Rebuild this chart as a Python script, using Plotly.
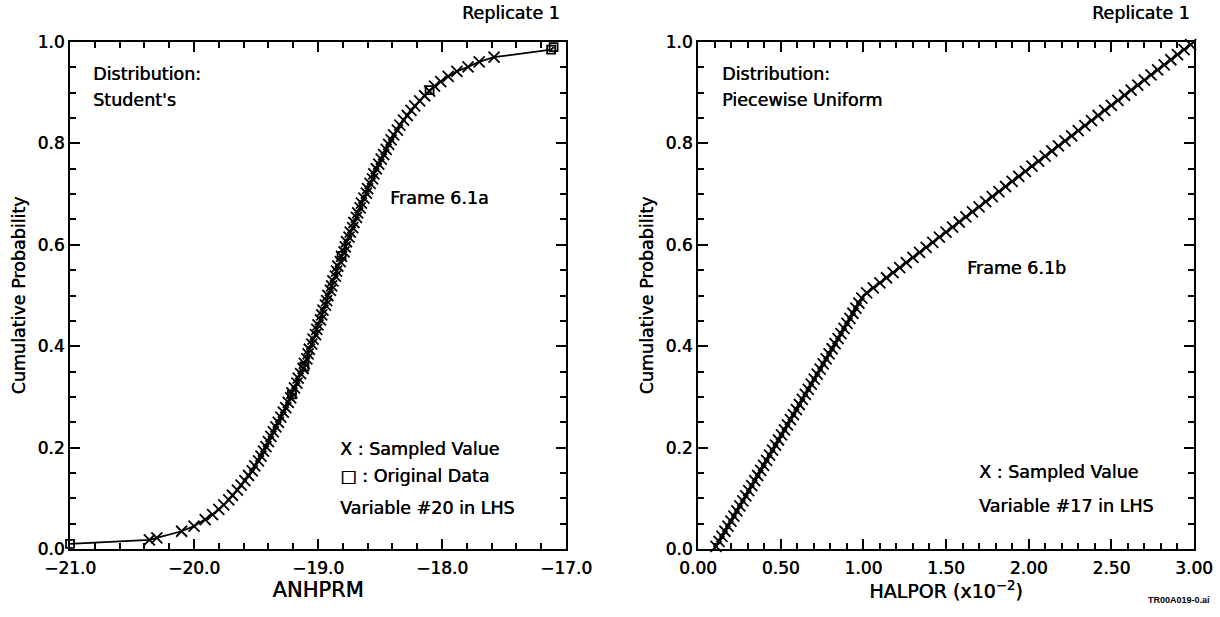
import plotly.graph_objects as go

W, H = 1220, 617

# ---------------- data: left panel (ANHPRM, Student's) ----------------
anh_sample_x = [
    -20.36, -20.30, -20.10, -20.00, -19.91, -19.85, -19.80, -19.76, -19.72, -19.69,
    -19.65, -19.62, -19.59, -19.56, -19.53, -19.51, -19.48, -19.46, -19.44, -19.42,
    -19.40, -19.38, -19.36, -19.34, -19.32, -19.30, -19.28, -19.26, -19.24, -19.22,
    -19.21, -19.19, -19.17, -19.16, -19.14, -19.12, -19.11, -19.09, -19.08, -19.07,
    -19.05, -19.04, -19.02, -19.01, -19.00, -18.98, -18.97, -18.96, -18.94, -18.93,
    -18.92, -18.90, -18.89, -18.88, -18.86, -18.85, -18.84, -18.82, -18.81, -18.79,
    -18.78, -18.77, -18.75, -18.74, -18.72, -18.71, -18.69, -18.68, -18.66, -18.65,
    -18.63, -18.61, -18.60, -18.58, -18.56, -18.55, -18.53, -18.51, -18.49, -18.47,
    -18.45, -18.43, -18.41, -18.39, -18.36, -18.34, -18.31, -18.28, -18.25, -18.22,
    -18.18, -18.14, -18.10, -18.06, -18.01, -17.95, -17.88, -17.79, -17.70, -17.58,
]
anh_sample_p = [
    0.018, 0.022, 0.035, 0.045, 0.058, 0.068, 0.078, 0.087, 0.097, 0.106,
    0.116, 0.126, 0.135, 0.145, 0.154, 0.164, 0.174, 0.183, 0.193, 0.202,
    0.212, 0.222, 0.231, 0.241, 0.250, 0.260, 0.270, 0.279, 0.289, 0.298,
    0.308, 0.318, 0.327, 0.337, 0.346, 0.356, 0.366, 0.375, 0.385, 0.394,
    0.404, 0.414, 0.423, 0.433, 0.442, 0.452, 0.462, 0.471, 0.481, 0.490,
    0.500, 0.510, 0.519, 0.529, 0.538, 0.548, 0.558, 0.567, 0.577, 0.586,
    0.596, 0.606, 0.615, 0.625, 0.634, 0.644, 0.654, 0.663, 0.673, 0.682,
    0.692, 0.702, 0.711, 0.721, 0.730, 0.740, 0.750, 0.759, 0.769, 0.778,
    0.788, 0.798, 0.807, 0.817, 0.826, 0.836, 0.846, 0.855, 0.865, 0.874,
    0.884, 0.894, 0.903, 0.913, 0.922, 0.932, 0.942, 0.951, 0.961, 0.970,
]
anh_orig_x = [-21.00, -19.21, -19.11, -18.81, -18.10, -17.12, -17.10]
anh_orig_p = [0.010, 0.305, 0.360, 0.578, 0.905, 0.985, 0.990]

# ---------------- data: right panel (HALPOR, piecewise uniform) ----------------
hal_sample_x = [
    0.109, 0.127, 0.145, 0.163, 0.181, 0.199, 0.217, 0.235, 0.253, 0.271,
    0.289, 0.307, 0.325, 0.343, 0.361, 0.379, 0.397, 0.415, 0.433, 0.451,
    0.469, 0.487, 0.505, 0.523, 0.541, 0.559, 0.577, 0.595, 0.613, 0.631,
    0.649, 0.667, 0.685, 0.703, 0.721, 0.739, 0.757, 0.775, 0.793, 0.811,
    0.829, 0.847, 0.865, 0.883, 0.901, 0.919, 0.937, 0.955, 0.973, 0.991,
    1.02, 1.06, 1.10, 1.14, 1.18, 1.22, 1.26, 1.30, 1.34, 1.38,
    1.42, 1.46, 1.50, 1.54, 1.58, 1.62, 1.66, 1.70, 1.74, 1.78,
    1.82, 1.86, 1.90, 1.94, 1.98, 2.02, 2.06, 2.10, 2.14, 2.18,
    2.22, 2.26, 2.30, 2.34, 2.38, 2.42, 2.46, 2.50, 2.54, 2.58,
    2.62, 2.66, 2.70, 2.74, 2.78, 2.82, 2.86, 2.90, 2.94, 2.98,
]
hal_sample_p = [
    0.005, 0.015, 0.025, 0.035, 0.045, 0.055, 0.065, 0.075, 0.085, 0.095,
    0.105, 0.115, 0.125, 0.135, 0.145, 0.155, 0.165, 0.175, 0.185, 0.195,
    0.205, 0.215, 0.225, 0.235, 0.245, 0.255, 0.265, 0.275, 0.285, 0.295,
    0.305, 0.315, 0.325, 0.335, 0.345, 0.355, 0.365, 0.375, 0.385, 0.395,
    0.405, 0.415, 0.425, 0.435, 0.445, 0.455, 0.465, 0.475, 0.485, 0.495,
    0.505, 0.515, 0.525, 0.535, 0.545, 0.555, 0.565, 0.575, 0.585, 0.595,
    0.605, 0.615, 0.625, 0.635, 0.645, 0.655, 0.665, 0.675, 0.685, 0.695,
    0.705, 0.715, 0.725, 0.735, 0.745, 0.755, 0.765, 0.775, 0.785, 0.795,
    0.805, 0.815, 0.825, 0.835, 0.845, 0.855, 0.865, 0.875, 0.885, 0.895,
    0.905, 0.915, 0.925, 0.935, 0.945, 0.955, 0.965, 0.975, 0.985, 0.995,
]
hal_cdf_x = [0.10, 1.00, 3.00]
hal_cdf_p = [0.0, 0.5, 1.0]

# tick labels
left_xticks = [-21.0, -20.0, -19.0, -18.0, -17.0]
right_xticks = [0.0, 0.5, 1.0, 1.5, 2.0, 2.5, 3.0]
yticks = [0.0, 0.2, 0.4, 0.6, 0.8, 1.0]

FONT = "DejaVu Sans"
HEAVY = "0.45px 0px 0px black"   # slight emboldening like the scanned print

# ---------------- layout geometry (pixels) ----------------
L_X0, L_X1 = 70, 566
R_X0, R_X1 = 698, 1194
Y_TOP, Y_BOT = 42, 549


def px(x):
    return x / W


def py(y):
    return 1 - y / H


fig = go.Figure()

# left: CDF line through all points, sorted by value
pts = sorted(zip(anh_orig_x + anh_sample_x, anh_orig_p + anh_sample_p))
fig.add_trace(go.Scatter(
    x=[p[0] for p in pts], y=[p[1] for p in pts], mode="lines",
    line=dict(color="black", width=1.8), xaxis="x", yaxis="y",
    showlegend=False, hoverinfo="skip", cliponaxis=False))
fig.add_trace(go.Scatter(
    x=anh_sample_x, y=anh_sample_p, mode="markers",
    marker=dict(symbol="x-thin", size=11, line=dict(color="black", width=1.8)),
    xaxis="x", yaxis="y", showlegend=False, cliponaxis=False))
fig.add_trace(go.Scatter(
    x=anh_orig_x, y=anh_orig_p, mode="markers",
    marker=dict(symbol="square-open", size=8, color="black", line=dict(color="black", width=1.8)),
    xaxis="x", yaxis="y", showlegend=False, cliponaxis=False))

# right
fig.add_trace(go.Scatter(
    x=hal_cdf_x, y=hal_cdf_p, mode="lines",
    line=dict(color="black", width=2), xaxis="x2", yaxis="y2",
    showlegend=False, hoverinfo="skip", cliponaxis=False))
fig.add_trace(go.Scatter(
    x=hal_sample_x, y=hal_sample_p, mode="markers",
    marker=dict(symbol="x-thin", size=11, line=dict(color="black", width=1.8)),
    xaxis="x2", yaxis="y2", showlegend=False, cliponaxis=False))

tickfont = dict(family=FONT, size=17, color="black", shadow=HEAVY)
common = dict(showline=True, linecolor="black", linewidth=2, mirror="ticks",
              ticks="inside", ticklen=10, tickwidth=1.5, tickcolor="black",
              showgrid=False, zeroline=False, tickfont=tickfont, fixedrange=True,
              automargin=False, tickmode="array")
minor_common = dict(ticks="inside", ticklen=6, tickwidth=1.5, tickcolor="black", showgrid=False)
xtitle_font = dict(family=FONT, size=21, color="black", shadow=HEAVY)

fig.update_layout(
    template="none",
    width=W, height=H,
    margin=dict(l=0, r=0, t=0, b=0),
    paper_bgcolor="white", plot_bgcolor="white",
    showlegend=False,
    xaxis=dict(domain=[px(L_X0), px(L_X1)], range=[-21.0001, -16.9999],
               tickvals=left_xticks, ticktext=["\u2212" + f"{abs(v):.1f}" for v in left_xticks],
               minor=dict(dtick=0.2, tick0=-21, **minor_common),
               title=dict(text="ANHPRM", font=xtitle_font, standoff=2),
               ticklabelstandoff=3, anchor="y", **common),
    yaxis=dict(domain=[py(Y_BOT), py(Y_TOP)], range=[0, 1],
               tickvals=yticks, ticktext=[f"{v:.1f}" for v in yticks],
               minor=dict(dtick=0.05, tick0=0, **minor_common),
               anchor="x", **common),
    xaxis2=dict(domain=[px(R_X0), px(R_X1)], range=[0, 3],
                tickvals=right_xticks, ticktext=[f"{v:.2f}" for v in right_xticks],
                minor=dict(dtick=0.1, tick0=0, **minor_common),
                title=dict(text="HALPOR (x10<sup>\u22122</sup>)", standoff=2,
                           font=dict(family=FONT, size=19, color="black", shadow=HEAVY)),
                ticklabelstandoff=3, anchor="y2", **common),
    yaxis2=dict(domain=[py(Y_BOT), py(Y_TOP)], range=[0, 1],
                tickvals=yticks, ticktext=[f"{v:.1f}" for v in yticks],
                minor=dict(dtick=0.05, tick0=0, **minor_common),
                anchor="x2", **common),
)


def note(text, x, y, size=17.5, xanchor="left", yanchor="middle", angle=0,
         family=FONT, shadow=HEAVY):
    fig.add_annotation(text=text, x=px(x), y=py(y), xref="paper", yref="paper",
                       showarrow=False, xanchor=xanchor, yanchor=yanchor, textangle=angle,
                       font=dict(family=family, size=size, color="black", shadow=shadow),
                       align="left")


# left panel texts
note("Replicate 1", 562, 13, xanchor="right")
note("Distribution:", 91, 74)
note("Student's", 91, 100)
note("Frame 6.1a", 388, 198)
note("X : Sampled Value", 338, 449)
note("\u25a1 : Original Data", 338, 476)
note("Variable #20 in LHS", 338, 508)
note("Cumulative Probability", 18, (Y_TOP + Y_BOT) / 2, xanchor="center", angle=-90)

# right panel texts
note("Replicate 1", 1192, 13, xanchor="right")
note("Distribution:", 720, 74)
note("Piecewise Uniform", 720, 100)
note("Frame 6.1b", 965, 268)
note("X : Sampled Value", 977, 472)
note("Variable #17 in LHS", 977, 506)
note("Cumulative Probability", 646, (Y_TOP + Y_BOT) / 2, xanchor="center", angle=-90)

note("<b>TR00A019-0.ai</b>", 1212, 600, size=9, xanchor="right",
     family="Liberation Sans", shadow="none")

fig.write_html("out.html")
